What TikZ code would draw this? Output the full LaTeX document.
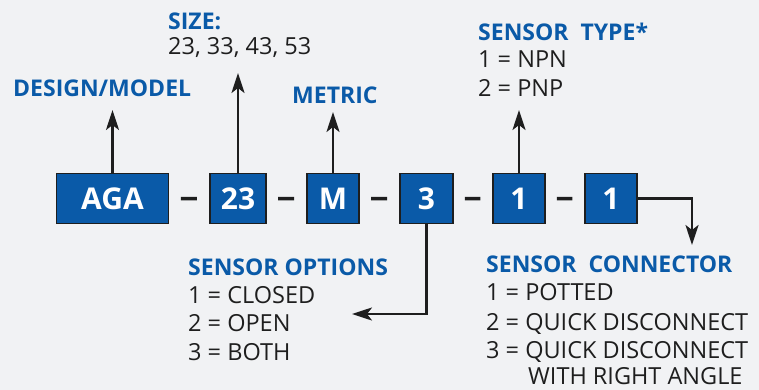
\documentclass[tikz,border=0pt]{standalone}
\usepackage{fontspec}
\setmainfont{Open Sans}
\usetikzlibrary{positioning,calc,arrows.meta}

\definecolor{codeblue}{HTML}{0A5AA8}
\definecolor{pagegray}{HTML}{F1F2F4}
\definecolor{inkblack}{HTML}{1E1E1E}

\tikzset{
  codebox/.style={draw=inkblack, line width=1.5pt, fill=codeblue, text=white,
    font=\fontsize{30}{30}\selectfont\bfseries, minimum height=50, inner sep=0pt},
  headtext/.style={anchor=base west, inner sep=0pt, text=codeblue,
    font=\fontsize{23}{23}\selectfont\bfseries},
  bodytext/.style={anchor=base west, inner sep=0pt, text=inkblack,
    font=\fontsize{23.5}{23.5}\selectfont},
  dashbar/.style={inkblack, line width=3.5pt},
  pointer/.style={inkblack, line width=2.4pt, -{Stealth[length=20pt,width=13pt,inset=5pt]}},
}

\begin{document}
\begin{tikzpicture}[x=1pt,y=-1pt]
    % Page
    \fill[pagegray] (0,0) rectangle (759,390);
    \useasboundingbox (0,0) rectangle (759,390);
    % Code boxes
    \node[codebox, minimum width=112] (aga) at (112.5,198.5) {AGA};
    \node[codebox, minimum width=56] (size) at (238,198.5) {23};
    \node[codebox, minimum width=52] (metric) at (333,198.5) {M};
    \node[codebox, minimum width=53] (options) at (426.5,198.5) {3};
    \node[codebox, minimum width=52] (type) at (519,198.5) {1};
    \node[codebox, minimum width=52] (connector) at (611,198.5) {1};
    % Dashes between boxes
    \foreach \a/\b in {aga/size, size/metric, metric/options, options/type, type/connector}
      \draw[dashbar] ($(\a.east)!.29!(\b.west)$) -- ($(\a.east)!.69!(\b.west)$);
    % Design / model
    \node[headtext] (designlbl) at (13,97) {DESIGN/MODEL};
    \coordinate (designtip) at (112.5,110);
    \draw[pointer] (aga.north) -- (designtip);
    % Size
    \node[headtext] (sizelbl) at (168,30) {SIZE:};
    \node[bodytext] (sizelist) at (168,55) {23, 33, 43, 53};
    \coordinate (sizetip) at (238,73);
    \draw[pointer] (size.north) -- (sizetip);
    % Metric
    \node[headtext] (metriclbl) at (292,104) {METRIC};
    \coordinate (metrictip) at (333,112);
    \draw[pointer] (metric.north) -- (metrictip);
    % Sensor type
    \node[headtext] (typelbl) at (478,41) {SENSOR\ \ TYPE*};
    \node[bodytext] (type1) at (478,68) {1 = NPN};
    \node[bodytext] (type2) at (478,97) {2 = PNP};
    \coordinate (typetip) at (519,110);
    \draw[pointer] (type.north) -- (typetip);
    % Sensor options
    \node[headtext] (optionslbl) at (188,275) {SENSOR OPTIONS};
    \node[bodytext] (option1) at (188,303) {1 = CLOSED};
    \node[bodytext] (option2) at (188,331) {2 = OPEN};
    \node[bodytext] (option3) at (188,360) {3 = BOTH};
    \coordinate (optionstip) at (352,314);
    \draw[pointer] (options.south) |- (optionstip);
    % Sensor connector
    \node[headtext] (connectorlbl) at (486,272) {SENSOR\ \ CONNECTOR};
    \node[bodytext] (connector1) at (486,300) {1 = POTTED};
    \node[bodytext] (connector2) at (486,330) {2 = QUICK DISCONNECT};
    \node[bodytext] (connector3) at (486,358) {3 = QUICK DISCONNECT};
    \node[bodytext] (connector3b) at (528,384) {WITH RIGHT ANGLE};
    \coordinate (connectortip) at (692,245);
    \draw[pointer] (connector.east) -| (connectortip);
\end{tikzpicture}
\end{document}
